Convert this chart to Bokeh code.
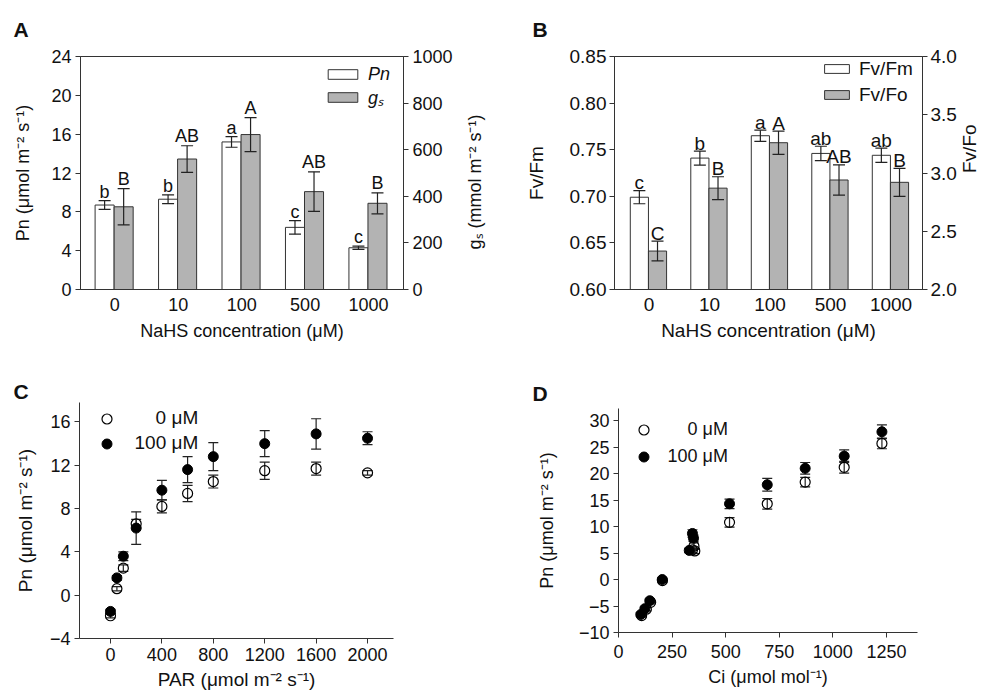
import math
from bokeh.plotting import figure
from bokeh.models import (Range1d, LinearAxis, FixedTicker, Whisker, TeeHead, Spacer,
                          ColumnDataSource, Legend, LegendItem, NumeralTickFormatter)
from bokeh.layouts import column, row
from bokeh.core.properties import value
from bokeh.embed import file_html
from bokeh.resources import INLINE

# ---------------- data ----------------
nahs_conc = ["0", "10", "100", "500", "1000"]

# Panel A
pn_mean = [8.7, 9.3, 15.2, 6.4, 4.3]
pn_err = [0.45, 0.45, 0.55, 0.7, 0.17]
pn_letters = ["b", "b", "a", "c", "c"]
gs_mean = [355, 560, 665, 420, 370]
gs_err = [78, 57, 73, 85, 45]
gs_letters = ["B", "AB", "A", "AB", "B"]
pn_ticks = [0, 4, 8, 12, 16, 20, 24]
gs_ticks = [0, 200, 400, 600, 800, 1000]

# Panel B
fvfm_mean = [0.699, 0.741, 0.765, 0.746, 0.744]
fvfm_err = [0.007, 0.0075, 0.006, 0.0077, 0.0077]
fvfm_letters = ["c", "b", "a", "ab", "ab"]
fvfo_mean = [2.33, 2.87, 3.26, 2.94, 2.92]
fvfo_err = [0.085, 0.098, 0.10, 0.13, 0.12]
fvfo_letters = ["C", "B", "A", "AB", "B"]
fvfm_ticks = [0.60, 0.65, 0.70, 0.75, 0.80, 0.85]
fvfo_ticks = [2.0, 2.5, 3.0, 3.5, 4.0]

# Panel C
par = [0, 50, 100, 200, 400, 600, 800, 1200, 1600, 2000]
pn_par_0 = [-1.9, 0.6, 2.5, 6.6, 8.2, 9.4, 10.5, 11.5, 11.7, 11.3]
pn_par_0_err = [0.2, 0.2, 0.3, 0.4, 0.6, 0.75, 0.6, 0.8, 0.6, 0.2]
pn_par_100 = [-1.5, 1.6, 3.6, 6.2, 9.7, 11.6, 12.8, 14.0, 14.9, 14.5]
pn_par_100_err = [0.2, 0.2, 0.4, 1.5, 0.9, 1.2, 1.3, 1.2, 1.4, 0.6]
par_ticks = [0, 400, 800, 1200, 1600, 2000]
pn_c_ticks = [-4, 0, 4, 8, 12, 16]

# Panel D
ci_0 = [108, 130, 150, 205, 345, 352, 356, 518, 694, 871, 1053, 1229]
pn_ci_0 = [-6.8, -5.6, -4.3, -0.2, 5.6, 6.3, 5.4, 10.8, 14.3, 18.4, 21.2, 25.7]
pn_ci_0_err = [0.3, 0.3, 0.3, 0.3, 0.5, 0.6, 0.5, 0.9, 1.0, 0.9, 1.1, 1.0]
ci_100 = [104, 123, 146, 204, 330, 345, 350, 518, 694, 871, 1053, 1229]
pn_ci_100 = [-6.6, -5.5, -4.0, 0.0, 5.5, 8.7, 7.8, 14.3, 17.9, 21.0, 23.3, 27.9]
pn_ci_100_err = [0.3, 0.3, 0.3, 0.3, 0.4, 0.7, 0.6, 0.9, 1.2, 1.1, 1.2, 1.3]
ci_ticks = [0, 250, 500, 750, 1000, 1250]
pn_d_ticks = [-10, -5, 0, 5, 10, 15, 20, 25, 30]

# ---------------- style ----------------
FONT = "Liberation Sans"
TXT = "#111111"
AX = "#333333"
GRAY = "#b3b3b3"
NB = "\u00a0"
UNIT = "(\u03bcmol m\u207b\u00b2 s\u207b\u00b9)"
GS_LABEL = "g\u209b (mmol m\u207b\u00b2 s\u207b\u00b9)"


def style_axis(ax, size, tick_out=5, standoff=4):
    ax.axis_line_color = AX
    ax.axis_line_width = 1
    ax.major_tick_line_color = AX if tick_out else None
    ax.major_tick_out = tick_out
    ax.major_tick_in = 0
    ax.minor_tick_line_color = None
    ax.major_label_standoff = standoff
    ax.major_label_text_font = FONT
    ax.major_label_text_font_size = f"{size}px"
    ax.major_label_text_color = TXT
    ax.axis_label_text_font = FONT
    ax.axis_label_text_font_size = f"{size}px"
    ax.axis_label_text_font_style = "normal"
    ax.axis_label_text_color = TXT


def bottom_to_top(ax):
    if "axis_label_orientation" in ax.properties():
        ax.axis_label_orientation = math.pi / 2


def make_fig(width, height, frame, origin, xr, yr, outline=True):
    l, t, r, b = frame
    ox, oy = origin
    p = figure(width=width, height=height, x_range=Range1d(*xr), y_range=Range1d(*yr),
               output_backend="svg", toolbar_location=None,
               min_border_left=l - ox, min_border_right=ox + width - r,
               min_border_top=t - oy, min_border_bottom=oy + height - b)
    p.xgrid.visible = False
    p.ygrid.visible = False
    p.outline_line_color = AX if outline else None
    p.background_fill_color = "white"
    p.border_fill_color = "white"
    return p


def panel_title(p, letter, frame_left, letter_left, standoff):
    p.title.text = letter
    p.title.align = "left"
    p.title.offset = letter_left - frame_left
    p.title.standoff = standoff
    p.title.text_font = FONT
    p.title.text_font_size = "21px"
    p.title.text_font_style = "bold"
    p.title.text_color = TXT


def whisker(p, base, mean, err, head, level="annotation", y_range_name="default"):
    src = ColumnDataSource(dict(base=base,
                                lower=[m - e for m, e in zip(mean, err)],
                                upper=[m + e for m, e in zip(mean, err)]))
    w = Whisker(base="base", lower="lower", upper="upper", source=src, level=level,
                line_color="#222222", line_width=1.2, y_range_name=y_range_name,
                upper_head=TeeHead(size=head, line_color="#222222", line_width=1.2),
                lower_head=TeeHead(size=head, line_color="#222222", line_width=1.2))
    p.add_layout(w)


cat_idx = list(range(len(nahs_conc)))
label_overrides = {i: c for i, c in zip(cat_idx, nahs_conc)}

# ================= Panel A =================
frA = (80, 55, 403, 289)
pA = make_fig(498, 347, frA, (0, 0), (-0.54, 4.55), (0, 24))
pA.extra_y_ranges = {"gs": Range1d(0, 1000)}
pA.xaxis.ticker = FixedTicker(ticks=cat_idx)
pA.xaxis.major_label_overrides = label_overrides
pA.xaxis.axis_label = "NaHS concentration (\u03bcM)"
style_axis(pA.xaxis[0], 18, tick_out=0, standoff=8)
pA.xaxis.axis_label_standoff = 7
pA.yaxis.ticker = FixedTicker(ticks=pn_ticks)
pA.yaxis.axis_label = "Pn " + UNIT
style_axis(pA.yaxis[0], 18)
pA.yaxis.axis_label_standoff = 15
axA_r = LinearAxis(y_range_name="gs", ticker=FixedTicker(ticks=gs_ticks),
                   axis_label=GS_LABEL)
style_axis(axA_r, 18)
axA_r.axis_label_standoff = 19
bottom_to_top(axA_r)
if "axis_label_align" in axA_r.properties():
    axA_r.axis_label_align = "start"
    axA_r.axis_label = NB * 8 + GS_LABEL
pA.add_layout(axA_r, "right")

pn_x = [i - 0.16 for i in cat_idx]
gs_x = [i + 0.14 for i in cat_idx]
rA1 = pA.vbar(x=pn_x, top=pn_mean, bottom=0, width=0.30, fill_color="white",
              line_color=AX, line_width=1)
rA2 = pA.vbar(x=gs_x, top=gs_mean, bottom=0, width=0.30, fill_color=GRAY,
              line_color=AX, line_width=1, y_range_name="gs")
whisker(pA, pn_x, pn_mean, pn_err, 12)
whisker(pA, gs_x, gs_mean, gs_err, 12, y_range_name="gs")
pA.text(x=pn_x, y=[m + e for m, e in zip(pn_mean, pn_err)], text=pn_letters,
        text_align="center", text_baseline="alphabetic", y_offset=-9,
        text_font=value(FONT), text_font_size=value("18px"), text_color=TXT)
pA.text(x=gs_x, y=[m + e for m, e in zip(gs_mean, gs_err)], text=gs_letters,
        text_align="center", text_baseline="alphabetic", y_offset=-10,
        text_font=value(FONT), text_font_size=value("18px"), text_color=TXT,
        y_range_name="gs")
legA = Legend(items=[LegendItem(label=value("Pn"), renderers=[rA1]),
                     LegendItem(label=value("g\u209b"), renderers=[rA2])],
              location=(244, 180.5), glyph_width=37, glyph_height=12,
              spacing=0, padding=0, margin=0, label_standoff=7,
              border_line_color=None, background_fill_alpha=0,
              label_text_font=FONT, label_text_font_size="18px",
              label_text_font_style="italic", label_text_color=TXT)
pA.add_layout(legA)
panel_title(pA, "A", frA[0], 13, 31)

# ================= Panel B =================
frB = (614, 55, 926, 289)
pB = make_fig(495, 347, frB, (498, 0), (-0.571, 4.52), (0.60, 0.85))
pB.extra_y_ranges = {"fo": Range1d(2.0, 4.0)}
pB.xaxis.ticker = FixedTicker(ticks=cat_idx)
pB.xaxis.major_label_overrides = label_overrides
pB.xaxis.axis_label = "NaHS concentration (\u03bcM)"
style_axis(pB.xaxis[0], 19, tick_out=0, standoff=8)
pB.xaxis.axis_label_standoff = 6
pB.yaxis.ticker = FixedTicker(ticks=fvfm_ticks)
pB.yaxis.formatter = NumeralTickFormatter(format="0.00")
pB.yaxis.axis_label = "Fv/Fm"
style_axis(pB.yaxis[0], 19, standoff=3)
pB.yaxis.axis_label_standoff = 20
axB_r = LinearAxis(y_range_name="fo", ticker=FixedTicker(ticks=fvfo_ticks),
                   formatter=NumeralTickFormatter(format="0.0"), axis_label="Fv/Fo")
style_axis(axB_r, 19, standoff=3)
axB_r.axis_label_standoff = 10
bottom_to_top(axB_r)
pB.add_layout(axB_r, "right")

fm_x = [i - 0.16 for i in cat_idx]
fo_x = [i + 0.14 for i in cat_idx]
rB1 = pB.vbar(x=fm_x, top=fvfm_mean, bottom=0.60, width=0.30, fill_color="white",
              line_color=AX, line_width=1)
rB2 = pB.vbar(x=fo_x, top=fvfo_mean, bottom=2.0, width=0.30, fill_color=GRAY,
              line_color=AX, line_width=1, y_range_name="fo")
whisker(pB, fm_x, fvfm_mean, fvfm_err, 12)
whisker(pB, fo_x, fvfo_mean, fvfo_err, 12, y_range_name="fo")
pB.text(x=fm_x, y=[m + e for m, e in zip(fvfm_mean, fvfm_err)], text=fvfm_letters,
        text_align="center", text_baseline="alphabetic", y_offset=-8,
        text_font=value(FONT), text_font_size=value("19px"), text_color=TXT)
pB.text(x=fo_x, y=[m + e for m, e in zip(fvfo_mean, fvfo_err)], text=fvfo_letters,
        text_align="center", text_baseline="alphabetic", y_offset=-8,
        text_font=value(FONT), text_font_size=value("19px"), text_color=TXT,
        y_range_name="fo")
legB = Legend(items=[LegendItem(label=value("Fv/Fm"), renderers=[rB1]),
                     LegendItem(label=value("Fv/Fo"), renderers=[rB2])],
              location=(207, 183.5), glyph_width=31, glyph_height=11,
              spacing=4, padding=0, margin=0, label_standoff=7,
              border_line_color=None, background_fill_alpha=0,
              label_text_font=FONT, label_text_font_size="19px", label_text_color=TXT)
pB.add_layout(legB)
panel_title(pB, "B", frB[0], 532, 31)

# ================= Panel C =================
frC = (79, 402, 393, 638)
pC = make_fig(498, 348, frC, (0, 347), (-241, 2202), (-4, 17.8), outline=False)
pC.xaxis.ticker = FixedTicker(ticks=par_ticks)
pC.xaxis.axis_label = "PAR " + UNIT
style_axis(pC.xaxis[0], 18, standoff=4)
pC.xaxis.axis_label_text_font_size = "19px"
pC.xaxis.axis_label_standoff = 5
pC.yaxis.ticker = FixedTicker(ticks=pn_c_ticks)
pC.yaxis.axis_label = "Pn " + UNIT
style_axis(pC.yaxis[0], 18, standoff=4)
pC.yaxis.axis_label_text_font_size = "19px"
pC.yaxis.axis_label_standoff = 11
whisker(pC, par, pn_par_100, pn_par_100_err, 10, level="underlay")
whisker(pC, par, pn_par_0, pn_par_0_err, 10, level="underlay")
rC2 = pC.scatter(x=par, y=pn_par_100, size=10, marker="circle", fill_color="black",
                 line_color="black")
rC1 = pC.scatter(x=par, y=pn_par_0, size=10, marker="circle", fill_color=None,
                 line_color="black", line_width=1.2)
legC = Legend(items=[LegendItem(label=value(NB * 4 + "0" + NB + "\u03bcM"), renderers=[rC1]),
                     LegendItem(label=value("100" + NB + "\u03bcM"), renderers=[rC2])],
              location=(14.5, 182.5), glyph_width=25, glyph_height=25,
              spacing=0, padding=0, margin=0, label_standoff=16,
              border_line_color=None, background_fill_alpha=0,
              label_text_font=FONT, label_text_font_size="19px", label_text_color=TXT)
pC.add_layout(legC)
panel_title(pC, "C", frC[0], 13, 0)

# ================= Panel D =================
frD = (618, 408, 917, 632)
pD = make_fig(495, 342, frD, (498, 353), (0, 1395), (-10, 32.3), outline=False)
pD.xaxis.ticker = FixedTicker(ticks=ci_ticks)
pD.xaxis.axis_label = "Ci (\u03bcmol mol\u207b\u00b9)"
style_axis(pD.xaxis[0], 18, standoff=7)
pD.xaxis.axis_label_standoff = 6
pD.yaxis.ticker = FixedTicker(ticks=pn_d_ticks)
pD.yaxis.axis_label = "Pn " + UNIT
style_axis(pD.yaxis[0], 18, standoff=4)
pD.yaxis.axis_label_standoff = 19
whisker(pD, ci_100, pn_ci_100, pn_ci_100_err, 10, level="underlay")
whisker(pD, ci_0, pn_ci_0, pn_ci_0_err, 10, level="underlay")
rD2 = pD.scatter(x=ci_100, y=pn_ci_100, size=10, marker="circle", fill_color="black",
                 line_color="black")
rD1 = pD.scatter(x=ci_0, y=pn_ci_0, size=10, marker="circle", fill_color=None,
                 line_color="black", line_width=1.2)
legD = Legend(items=[LegendItem(label=value(NB * 4 + "0" + NB + "\u03bcM"), renderers=[rD1]),
                     LegendItem(label=value("100" + NB + "\u03bcM"), renderers=[rD2])],
              location=(12.5, 163.5), glyph_width=25, glyph_height=25,
              spacing=2, padding=0, margin=0, label_standoff=12,
              border_line_color=None, background_fill_alpha=0,
              label_text_font=FONT, label_text_font_size="18px", label_text_color=TXT)
pD.add_layout(legD)
panel_title(pD, "D", frD[0], 532, 7)

layout = column(row(pA, pB),
                row(column(pC), column(Spacer(width=495, height=6), pD)))
open("out.html", "w").write(file_html(layout, INLINE))
